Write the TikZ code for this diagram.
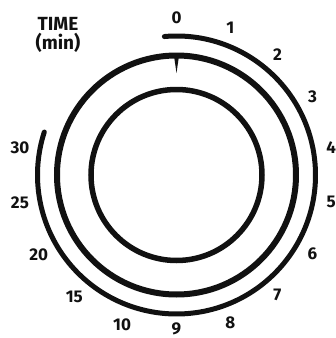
\documentclass[tikz,border=0pt]{standalone}
\usepackage{fontspec}
\setmainfont{Fira Sans}
\usepackage{tikz}
\usetikzlibrary{positioning}
\definecolor{dialink}{HTML}{111111}
\tikzset{
  ring/.style={draw=dialink, line width=6pt},
  scalearc/.style={draw=dialink, line width=5pt, line cap=round},
  minlabel/.style={font=\fontsize{17}{17}\selectfont\bfseries, text=dialink, inner sep=0pt},
  titlelabel/.style={font=\fontsize{19}{19}\selectfont\bfseries, text=dialink, inner sep=0pt}
}

\begin{document}
\begin{tikzpicture}[x=1pt, y=1pt]
  \useasboundingbox (-176.5,-163) rectangle (159.5,175);
  \coordinate (c) at (0,0);
  % dial rings
  \draw[ring] (c) circle (119.5);
  \draw[ring, line width=5.5pt] (c) circle (85.5);
  \draw[scalearc] (95:139) arc (95:-198:139);
  % pointer
  \fill[dialink] (-2.2,117) -- (2.2,117) -- (0,102) -- cycle;
  % minute marks 0..9
  \foreach \m in {0,...,8}
    \node[minlabel] (m\m) at ({90-20*\m}:157) {\m};
  \node[minlabel] (m9) at (-90:154) {9};
  % minute marks 10..30
  \foreach \m/\a in {10/-110,15/-130,20/-150,25/-170,30/170}
    \node[minlabel] (m\m) at (\a:159) {\m};
  \node[titlelabel] (time) at (-118.5,151) {TIME};
  \node[titlelabel, below=2pt of time] (unit) {(min)};
\end{tikzpicture}
\end{document}
